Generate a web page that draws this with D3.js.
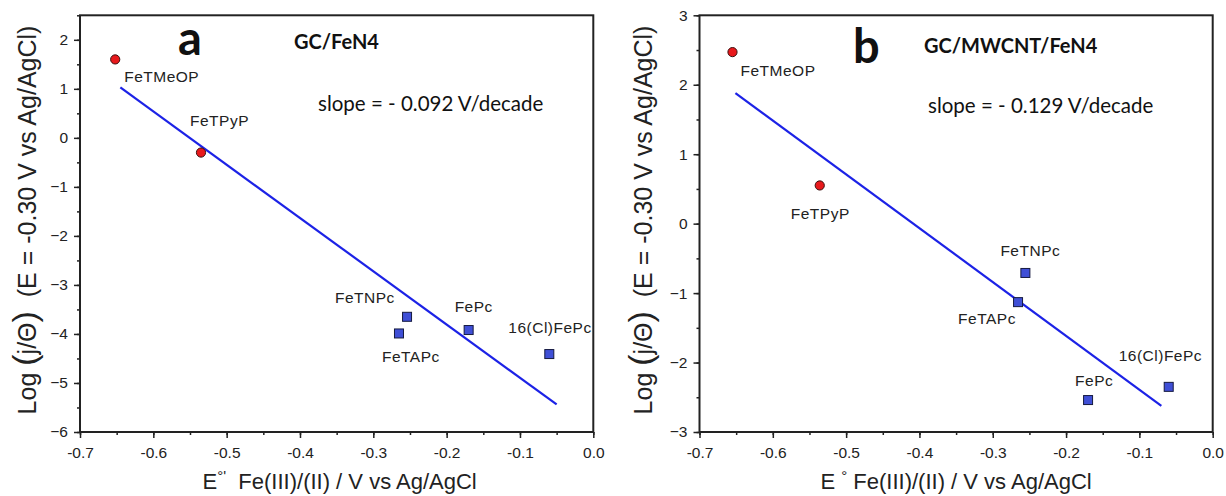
<!DOCTYPE html>
<html>
<head>
<meta charset="utf-8">
<script src="https://cdn.jsdelivr.net/npm/d3@7"></script>
<style>
  body { margin: 0; background: #fff; }
  svg { display: block; }
</style>
</head>
<body>
<svg id="chart" width="1226" height="496"></svg>
<script>
// ---- data ---------------------------------------------------------------
const compounds   = ["FeTMeOP", "FeTPyP", "FeTNPc", "FeTAPc", "FePc", "16(Cl)FePc"];
const markerKinds = ["circle", "circle", "square", "square", "square", "square"];

// GC/FeN4 electrodes
const formalPotA = [-0.652, -0.535, -0.254, -0.265, -0.170, -0.060];
const logActA    = [1.60, -0.30, -3.65, -3.99, -3.92, -4.41];
const fitSpanA   = [-0.645, -0.050];
const fitMidA    = [-0.3475, -2.205];
const slopeA     = 0.092;   // V/decade

// GC/MWCNT/FeN4 electrodes
const formalPotB = [-0.655, -0.536, -0.2555, -0.2655, -0.170, -0.060];
const logActB    = [2.47, 0.55, -0.71, -1.13, -2.54, -2.35];
const fitSpanB   = [-0.651, -0.070];
const fitMidB    = [-0.3607, -0.370];
const slopeB     = 0.129;   // V/decade

const xTicks     = [-0.7, -0.6, -0.5, -0.4, -0.3, -0.2, -0.1, 0.0];
const xTickText  = ["-0.7", "-0.6", "-0.5", "-0.4", "-0.3", "-0.2", "-0.1", "0.0"];
const yTicksA    = [-6, -5, -4, -3, -2, -1, 0, 1, 2];
const yTicksB    = [-3, -2, -1, 0, 1, 2, 3];

// ---- layout -------------------------------------------------------------
const svg = d3.select("#chart");
const TXT = "'Liberation Sans', Arial, sans-serif";
const CAL = "Lato, 'Open Sans', sans-serif";

const panels = [
  {
    key: "a", x: formalPotA, y: logActA, span: fitSpanA, mid: fitMidA, slope: slopeA,
    yDomain: [-6, 2.5], yTicks: yTicksA,
    left: 80, right: 593.3,
    letter: "a", letterPos: [178, 55],
    subtitle: "GC/FeN4", subPos: [294, 49],
    slopePos: [318, 111],
    yTitleX: 36,
    xTitle: ["E", "°'", "  Fe(III)/(II) / V vs Ag/AgCl"], xTitleShift: 3,
    labelOff: [[9, 23], [-11, -27], [-72, -14], [-17, 29], [-14, -18], [-41, -21]]
  },
  {
    key: "b", x: formalPotB, y: logActB, span: fitSpanB, mid: fitMidB, slope: slopeB,
    yDomain: [-3, 3], yTicks: yTicksB,
    left: 699.5, right: 1212.7,
    letter: "b", letterPos: [853, 63],
    subtitle: "GC/MWCNT/FeN4", subPos: [924, 53],
    slopePos: [928, 113],
    yTitleX: 652,
    xTitle: ["E ", "°", " Fe(III)/(II) / V vs Ag/AgCl"], xTitleShift: 0,
    labelOff: [[8, 24], [-29, 34], [-25, -17], [-60, 22], [-13, -14], [-50, -26]]
  }
];

const TOP = 15.3, BOTTOM = 432;

panels.forEach(p => {
  const g = svg.append("g").attr("class", "panel-" + p.key);
  const x = d3.scaleLinear().domain([-0.7, 0.0]).range([p.left, p.right]);
  const y = d3.scaleLinear().domain(p.yDomain).range([BOTTOM, TOP]);

  // minor ticks
  const xMinor = d3.range(-0.7, 0.0001, 0.05).map(v => +v.toFixed(3));
  const yMinor = d3.range(p.yDomain[0], p.yDomain[1] + 0.0001, 0.5);

  g.append("g").attr("transform", `translate(0,${BOTTOM})`)
    .call(d3.axisBottom(x).tickValues(xMinor).tickSize(3).tickFormat(""))
    .call(a => a.select(".domain").remove())
    .call(a => a.selectAll("line").attr("stroke", "#222").attr("stroke-width", 1.5));
  g.append("g").attr("transform", `translate(${p.left},0)`)
    .call(d3.axisLeft(y).tickValues(yMinor).tickSize(3).tickFormat(""))
    .call(a => a.select(".domain").remove())
    .call(a => a.selectAll("line").attr("stroke", "#222").attr("stroke-width", 1.5));

  // major ticks with labels
  const xAxis = g.append("g").attr("transform", `translate(0,${BOTTOM})`)
    .call(d3.axisBottom(x).tickValues(xTicks).tickSize(6).tickPadding(9)
      .tickFormat((d, i) => xTickText[i]));
  const yAxis = g.append("g").attr("transform", `translate(${p.left},0)`)
    .call(d3.axisLeft(y).tickValues(p.yTicks).tickSize(6).tickPadding(6)
      .tickFormat(d3.format("d")));
  [xAxis, yAxis].forEach(a => {
    a.select(".domain").remove();
    a.selectAll("line").attr("stroke", "#222").attr("stroke-width", 1.5);
    a.selectAll("text").attr("fill", "#222").style("font-family", TXT).style("font-size", "15.5px");
  });

  // frame
  g.append("rect")
    .attr("x", p.left).attr("y", TOP)
    .attr("width", p.right - p.left).attr("height", BOTTOM - TOP)
    .attr("fill", "none").attr("stroke", "#222").attr("stroke-width", 2);

  // fit line from the stated slope (decades per volt = -1/slope)
  const fitY = v => p.mid[1] - (v - p.mid[0]) / p.slope;
  g.append("path")
    .datum(p.span)
    .attr("d", d3.line().x(v => x(v)).y(v => y(fitY(v))))
    .attr("stroke", "#1c22e6").attr("stroke-width", 2.2).attr("fill", "none");

  // markers
  const pts = compounds.map((name, i) => ({ name, kind: markerKinds[i], e: p.x[i], l: p.y[i], off: p.labelOff[i] }));
  g.selectAll("circle.pt").data(pts.filter(d => d.kind === "circle")).join("circle")
    .attr("class", "pt")
    .attr("cx", d => x(d.e)).attr("cy", d => y(d.l)).attr("r", 4.6)
    .attr("fill", "#e8191c").attr("stroke", "#3a1010").attr("stroke-width", 1);
  const S = 9;
  g.selectAll("rect.pt").data(pts.filter(d => d.kind === "square")).join("rect")
    .attr("class", "pt")
    .attr("x", d => x(d.e) - S / 2).attr("y", d => y(d.l) - S / 2)
    .attr("width", S).attr("height", S)
    .attr("fill", "#3f4fd6").attr("stroke", "#151a40").attr("stroke-width", 1);

  // compound labels
  g.selectAll("text.lbl").data(pts).join("text")
    .attr("class", "lbl")
    .attr("x", d => x(d.e) + d.off[0]).attr("y", d => y(d.l) + d.off[1])
    .attr("fill", "#222")
    .style("font-family", TXT).style("font-size", "15.5px").style("letter-spacing", "0.5px")
    .text(d => d.name);

  // panel letter, electrode name and slope note
  g.append("text").attr("x", p.letterPos[0]).attr("y", p.letterPos[1])
    .style("font-family", CAL).style("font-weight", 700).style("font-size", "47px")
    .attr("fill", "#111").text(p.letter);
  g.append("text").attr("x", p.subPos[0]).attr("y", p.subPos[1])
    .style("font-family", CAL).style("font-weight", 700).style("font-size", "20px")
    .attr("fill", "#111").text(p.subtitle);
  g.append("text").attr("x", p.slopePos[0]).attr("y", p.slopePos[1])
    .style("font-family", CAL).style("font-size", "20.5px")
    .attr("fill", "#111").text(`slope = - ${p.slope.toFixed(3)} V/decade`);

  // x-axis title
  const xt = g.append("text")
    .attr("x", (p.left + p.right) / 2 + p.xTitleShift).attr("y", 489)
    .attr("text-anchor", "middle").attr("fill", "#222")
    .attr("xml:space", "preserve")
    .style("font-family", TXT).style("font-size", "22px");
  xt.append("tspan").text(p.xTitle[0]);
  xt.append("tspan").attr("dy", -8).style("font-size", "15px").text(p.xTitle[1]);
  xt.append("tspan").attr("dy", 8).text(p.xTitle[2]);

  // y-axis title
  const yt = g.append("text")
    .attr("transform", `translate(${p.yTitleX},${220}) rotate(-90)`)
    .attr("text-anchor", "middle").attr("fill", "#222")
    .attr("xml:space", "preserve")
    .style("font-family", TXT).style("font-size", "25px");
  yt.append("tspan").text("Log ");
  yt.append("tspan").style("font-size", "34px").text("(");
  yt.append("tspan").text("j/Θ");
  yt.append("tspan").style("font-size", "34px").text(")");
  yt.append("tspan").text("  (E = -0.30 V vs Ag/AgCl)");
});
</script>
</body>
</html>
